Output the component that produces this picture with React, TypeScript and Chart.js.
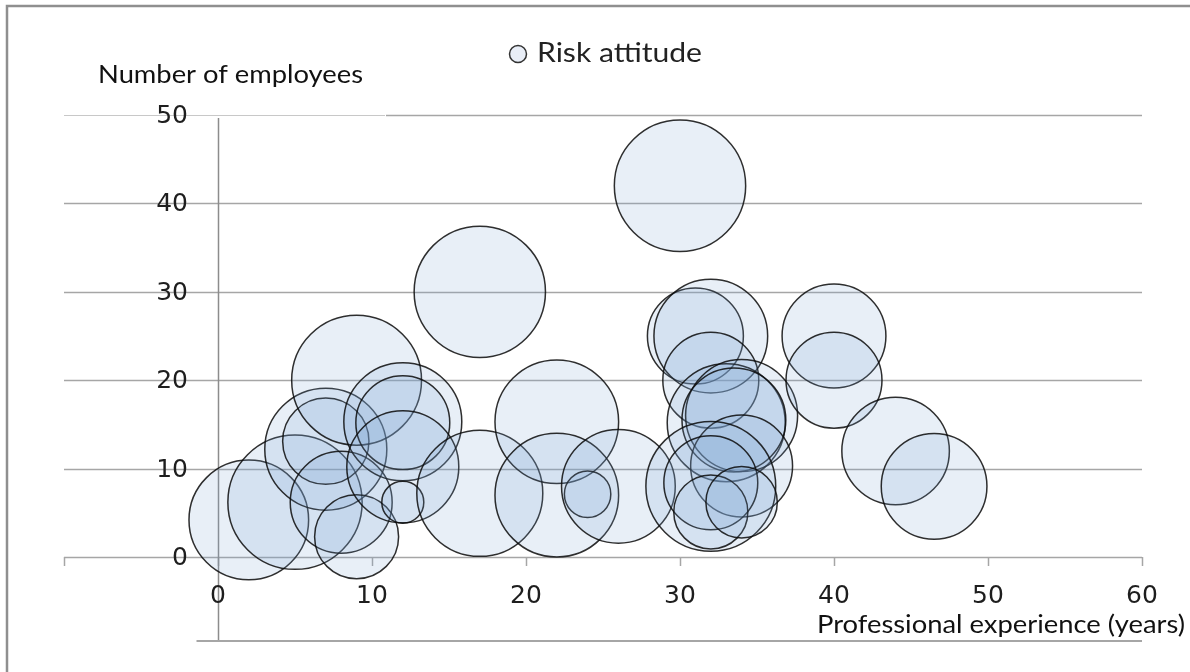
import React, { useEffect, useRef } from "react";
import { Chart, registerables } from "chart.js";

Chart.register(...registerables);

// ---- data ----
const seriesLabel = "Risk attitude";
const xTitle = "Professional experience (years)";
const yTitle = "Number of employees";

const experience = [2, 5, 7, 7, 8, 9, 9, 12, 12, 12, 12, 17, 17, 22, 22, 24, 26, 30, 31, 32, 32, 33, 34, 33.5, 34, 32, 32, 32, 34, 40, 40, 44, 46.5];
const employees = [4.2, 6.2, 12.2, 13.1, 6.2, 2.3, 20, 15.3, 15.2, 10.2, 6.2, 7.2, 30, 15.3, 7, 7.1, 8, 42, 25, 25, 20, 15.2, 16, 15.5, 10.3, 8, 8.4, 5.1, 6.2, 25, 20, 12, 8];
const riskSize = [73, 92, 76, 38, 53, 36, 86, 71, 45, 64, 9, 81, 88, 78, 78, 11, 66, 88, 47, 66, 47, 71, 64, 55, 53, 86, 45, 28, 26, 55, 47, 59, 57];

const xTicks = [0, 10, 20, 30, 40, 50, 60];
const yTicks = [0, 10, 20, 30, 40, 50];
const xMin = -10;
const xMax = 60;
const yMin = -9.5;
const yMax = 50;

const W = 1190;
const H = 672;
const BUBBLE_K = 7;
const FILL = "rgba(120,160,210,0.17)";
const EDGE = "rgba(10,10,10,0.85)";

function fitText(ctx: CanvasRenderingContext2D, text: string, x: number, baseline: number, size: number, family: string, width: number, color: string) {
  ctx.save();
  ctx.font = `${size}px ${family}`;
  const m = ctx.measureText(text).width;
  ctx.translate(x, baseline);
  ctx.scale(width / m, 1);
  ctx.fillStyle = color;
  ctx.textAlign = "left";
  ctx.textBaseline = "alphabetic";
  ctx.fillText(text, 0, 0);
  ctx.restore();
}

const decorPlugin = {
  id: "decor",
  beforeDatasetsDraw(chart: any) {
    const ctx: CanvasRenderingContext2D = chart.ctx;
    const xs = chart.scales.x;
    const ys = chart.scales.y;
    const area = chart.chartArea;
    ctx.save();
    // outer frame
    ctx.strokeStyle = "#8f8f8f";
    ctx.lineWidth = 2.5;
    ctx.strokeRect(7, 6, W + 40, H + 40);

    // horizontal grid lines (incl. x axis at 0)
    ctx.strokeStyle = "#a6a6a6";
    ctx.lineWidth = 1.5;
    for (const v of yTicks) {
      const y = Math.round(ys.getPixelForValue(v)) + 0.5;
      ctx.beginPath();
      if (v === yMax) {
        // lighter stretch beneath the axis title box
        ctx.save();
        ctx.strokeStyle = "#c8c8c8";
        ctx.lineWidth = 1;
        ctx.moveTo(area.left, y);
        ctx.lineTo(385, y);
        ctx.stroke();
        ctx.restore();
        ctx.beginPath();
        ctx.moveTo(386, y);
      } else {
        ctx.moveTo(area.left, y);
      }
      ctx.lineTo(area.right, y);
      ctx.stroke();
    }
    // x axis tick marks
    const y0 = ys.getPixelForValue(0);
    for (const v of [xMin, ...xTicks]) {
      const x = Math.round(xs.getPixelForValue(v)) + 0.5;
      ctx.beginPath();
      ctx.moveTo(x, y0);
      ctx.lineTo(x, y0 + 9);
      ctx.stroke();
    }
    // y axis line at x = 0
    const x0 = Math.round(xs.getPixelForValue(0)) + 0.5;
    ctx.strokeStyle = "#8c8c8c";
    ctx.beginPath();
    ctx.moveTo(x0, area.top + 3);
    ctx.lineTo(x0, area.bottom);
    ctx.stroke();
    // bottom line
    ctx.strokeStyle = "#a6a6a6";
    ctx.lineWidth = 2;
    ctx.beginPath();
    ctx.moveTo(x0 - 22, area.bottom);
    ctx.lineTo(area.right, area.bottom);
    ctx.stroke();
    ctx.restore();
  },
  afterDatasetsDraw(chart: any) {
    const ctx: CanvasRenderingContext2D = chart.ctx;
    const xs = chart.scales.x;
    const ys = chart.scales.y;
    ctx.save();
    ctx.fillStyle = "#1e1e1e";
    ctx.font = "25px 'DejaVu Sans'";
    // y tick labels
    ctx.textAlign = "right";
    ctx.textBaseline = "alphabetic";
    const x0 = xs.getPixelForValue(0);
    for (const v of yTicks) {
      ctx.fillText(String(v), x0 - 30, ys.getPixelForValue(v) + 8);
    }
    // x tick labels
    ctx.textAlign = "center";
    const y0 = ys.getPixelForValue(0);
    for (const v of xTicks) {
      ctx.fillText(String(v), xs.getPixelForValue(v), y0 + 46);
    }
    ctx.restore();

    // axis titles
    fitText(ctx, yTitle, 98, 83, 25, "Lato", 265, "#111");
    fitText(ctx, xTitle, 817, 633, 25, "Lato", 368, "#111");

    // legend
    ctx.save();
    ctx.beginPath();
    ctx.arc(518, 54, 8.5, 0, Math.PI * 2);
    ctx.fillStyle = "#e9eef7";
    ctx.fill();
    ctx.strokeStyle = "#333";
    ctx.lineWidth = 1.5;
    ctx.stroke();
    ctx.restore();
    fitText(ctx, chart.data.datasets[0].label, 537, 62, 26, "Lato", 165, "#222");
  },
};

export default function App() {
  const ref = useRef<HTMLCanvasElement | null>(null);
  useEffect(() => {
    if (!ref.current) return;
    const points = experience.map((x, i) => ({
      x,
      y: employees[i],
      r: BUBBLE_K * Math.sqrt(riskSize[i]),
    }));
    const chart = new Chart(ref.current, {
      type: "bubble",
      data: {
        datasets: [
          {
            label: seriesLabel,
            data: points,
            backgroundColor: FILL,
            borderColor: EDGE,
            borderWidth: 1.5,
            clip: false as any,
          },
        ],
      },
      options: {
        responsive: false,
        animation: false,
        events: [],
        layout: { autoPadding: false, padding: { left: 64, top: 115, right: W - 1142, bottom: H - 641 } } as any,
        plugins: { legend: { display: false }, tooltip: { enabled: false } },
        scales: {
          x: { type: "linear", min: xMin, max: xMax, display: false },
          y: { type: "linear", min: yMin, max: yMax, display: false },
        },
      },
      plugins: [decorPlugin],
    });
    return () => chart.destroy();
  }, []);
  return (
    <div style={{ position: "fixed", left: 0, top: 0, width: W, height: H, overflow: "hidden", background: "#fff" }}>
      <canvas ref={ref} width={W} height={H} style={{ width: W, height: H, display: "block" }} />
    </div>
  );
}
